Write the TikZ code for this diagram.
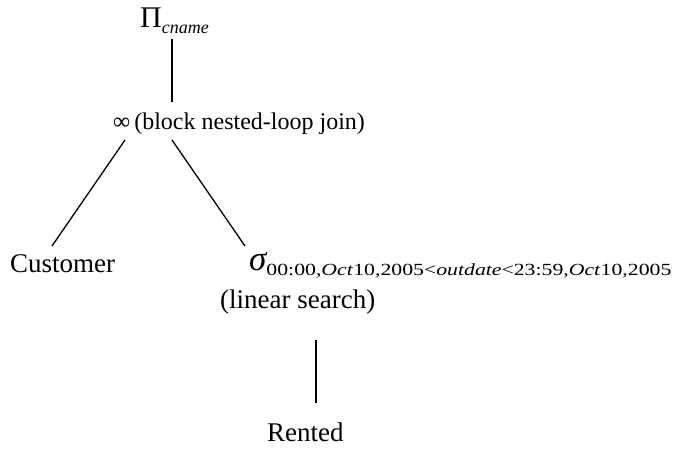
\documentclass[tikz,border=0pt]{standalone}
\usepackage{fontspec}
\setmainfont{Liberation Serif}
\begin{document}
\begin{tikzpicture}[x=1pt,y=-1pt,
  txt/.style={inner sep=0pt, anchor=base west},
  big/.style={font=\fontsize{27}{30}\selectfont},
  edge/.style={line width=1.3pt}]
\useasboundingbox (0,0) rectangle (677,448);
% operator labels
\node[txt, font=\fontsize{30}{32}\selectfont] (proj) at (140,27)
  {Π\raisebox{-6pt}{\fontsize{18}{20}\selectfont\itshape cname}};
\node[txt, font=\fontsize{24}{28}\selectfont] (join) at (113,129)
  {∞\,(block nested-loop join)};
\node[txt, big] (cust) at (10,272) {Customer};
\node[txt] (sel) at (249,270)
  {{\fontsize{35}{36}\selectfont\itshape σ}\raisebox{-5pt}{\scalebox{1.28}[1]{\fontsize{17}{18}\selectfont 00:00,\textit{Oct}10,2005<\textit{outdate}<23:59,\textit{Oct}10,2005}}};
\node[txt, big] (lin) at (220,308) {(linear search)};
\node[txt, big, text depth=0pt] (rent) at (267,441) {Rented};
% connector ends
\coordinate (projB) at (172,39);
\coordinate (joinT) at (172,102);
\coordinate (joinL) at (125,140);
\coordinate (joinR) at (172,140);
\coordinate (custT) at (52,246);
\coordinate (selT) at (245,246);
\coordinate (linB) at (316,340);
\coordinate (rentT) at (316,403);
% tree edges
\draw[edge] (projB) -- (joinT);
\draw[edge] (joinL) -- (custT);
\draw[edge] (joinR) -- (selT);
\draw[edge] (linB) -- (rentT);
\end{tikzpicture}
\end{document}
